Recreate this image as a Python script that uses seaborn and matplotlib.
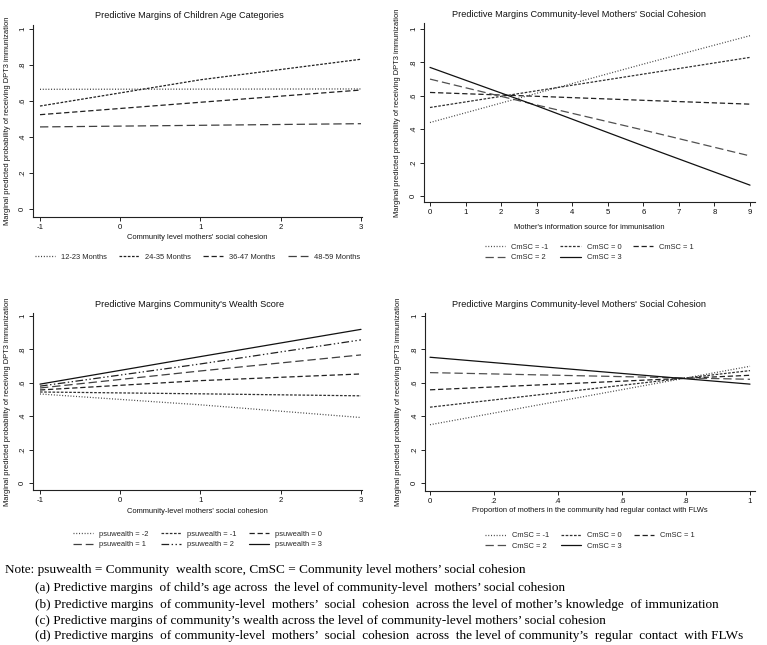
import matplotlib
matplotlib.use("Agg")
import matplotlib.pyplot as plt
import seaborn as sns

# ---------------- data ----------------
# (a) Predictive margins of children age categories
a_x = [-1, 1, 3]
a_names = ["12-23 Months", "24-35 Months", "36-47 Months", "48-59 Months"]
a_12_23 = [0.665, 0.666, 0.667]
a_24_35 = [0.572, 0.718, 0.832]
a_36_47 = [0.524, 0.593, 0.661]
a_48_59 = [0.456, 0.465, 0.474]

# (b) CmSC across mother's information source
b_x = [0, 3, 6, 9]
b_names = ["CmSC = -1", "CmSC = 0", "CmSC = 1", "CmSC = 2", "CmSC = 3"]
b_m1 = [0.44, 0.615, 0.79, 0.96]
b_0 = [0.53, 0.63, 0.73, 0.83]
b_1 = [0.62, 0.597, 0.573, 0.55]
b_2 = [0.70, 0.545, 0.395, 0.24]
b_3 = [0.77, 0.54, 0.30, 0.065]

# (c) Community wealth score
c_x = [-1, 1, 3]
c_names = ["psuwealth = -2", "psuwealth = -1", "psuwealth = 0",
           "psuwealth = 1", "psuwealth = 2", "psuwealth = 3"]
c_m2 = [0.533, 0.468, 0.392]
c_m1 = [0.545, 0.534, 0.522]
c_0 = [0.557, 0.613, 0.653]
c_1 = [0.569, 0.671, 0.767]
c_2 = [0.580, 0.713, 0.857]
c_3 = [0.592, 0.757, 0.920]

# (d) CmSC across contact with FLWs
d_x = [0, 0.5, 1]
d_names = ["CmSC = -1", "CmSC = 0", "CmSC = 1", "CmSC = 2", "CmSC = 3"]
d_m1 = [0.349, 0.524, 0.699]
d_0 = [0.454, 0.563, 0.673]
d_1 = [0.558, 0.601, 0.645]
d_2 = [0.661, 0.641, 0.621]
d_3 = [0.753, 0.672, 0.592]

titles = ["Predictive Margins of Children Age Categories",
          "Predictive Margins Community-level Mothers' Social Cohesion",
          "Predictive Margins Community's Wealth Score",
          "Predictive Margins Community-level Mothers' Social Cohesion"]
xlabels = ["Community level mothers' social cohesion",
           "Mother's information source for immunisation",
           "Community-level mothers' social cohesion",
           "Proportion of mothers in the community had regular contact with FLWs"]
ylabel = "Marginal predicted probability of receiving DPT3 immunization"
y_ticks = [0, 0.2, 0.4, 0.6, 0.8, 1]
y_ticklabels = ["0", ".2", ".4", ".6", ".8", "1"]
a_xticks = [-1, 0, 1, 2, 3]
b_xticks = list(range(10))
d_xticks = [0, 0.2, 0.4, 0.6, 0.8, 1]
d_xticklabels = ["0", ".2", ".4", ".6", ".8", "1"]

notes = [
    "Note: psuwealth = Community  wealth score, CmSC = Community level mothers\u2019 social cohesion",
    "(a) Predictive margins  of child\u2019s age across  the level of community-level  mothers\u2019 social cohesion",
    "(b) Predictive margins  of community-level  mothers\u2019  social  cohesion  across the level of mother\u2019s knowledge  of immunization",
    "(c) Predictive margins of community\u2019s wealth across the level of community-level mothers\u2019 social cohesion",
    "(d) Predictive margins  of community-level  mothers\u2019  social  cohesion  across  the level of community\u2019s  regular  contact  with FLWs",
]

# ---------------- styles ----------------
sns.set_theme(style="white")
plt.rcParams["font.family"] = ["Liberation Sans", "DejaVu Sans"]
plt.rcParams["lines.scale_dashes"] = False

DOT = (0, (0.7, 1.3))
SHORT = (0, (1.9, 1.1))
MED = (0, (3.8, 2.0))
LONG = (0, (6.0, 2.8))
DASHDOT = (0, (5.5, 1.8, 1.0, 1.8, 1.0, 1.8))
SOLID = "-"

W, H = 767, 645
fig = plt.figure(figsize=(W / 100, H / 100), dpi=100)
fig.patch.set_facecolor("white")


def rect(l, r, t, b):
    return [l / W, 1 - b / H, (r - l) / W, (b - t) / H]


def lim(v1, p1, v2, p2, lo, hi):
    s = (v2 - v1) / (p2 - p1)
    return v1 + (lo - p1) * s, v1 + (hi - p1) * s


panels = [
    dict(box=(33, 362, 25, 217), xr=(-1, 40, 3, 361), yr=(0, 209, 1, 29),
         x=a_x, series=[a_12_23, a_24_35, a_36_47, a_48_59], names=a_names,
         ls=[DOT, SHORT, MED, LONG], col=["#303030", "#202020", "#202020", "#404040"],
         xticks=a_xticks, xtl=[str(v) for v in a_xticks], ncol=4,
         tx=0.474, xl_y=-0.109, leg_y=-0.208),
    dict(box=(424, 755, 23, 202), xr=(0, 430, 9, 750), yr=(0, 196, 1, 29),
         x=b_x, series=[b_m1, b_0, b_1, b_2, b_3], names=b_names,
         ls=[DOT, SHORT, MED, LONG, SOLID],
         col=["#404040", "#303030", "#202020", "#505050", "#111111"],
         xticks=b_xticks, xtl=[str(v) for v in b_xticks], ncol=3,
         tx=0.468, xl_y=-0.145, leg_y=-0.282),
    dict(box=(33, 362, 313, 490), xr=(-1, 40, 3, 361), yr=(0, 483, 1, 316),
         x=c_x, series=[c_m2, c_m1, c_0, c_1, c_2, c_3], names=c_names,
         ls=[DOT, SHORT, MED, LONG, DASHDOT, SOLID],
         col=["#404040", "#303030", "#202020", "#404040", "#202020", "#111111"],
         xticks=a_xticks, xtl=[str(v) for v in a_xticks], ncol=3,
         tx=0.476, xl_y=-0.124, leg_y=-0.28),
    dict(box=(425, 755, 313, 491), xr=(0, 430, 1, 750), yr=(0, 483, 1, 316),
         x=d_x, series=[d_m1, d_0, d_1, d_2, d_3], names=d_names,
         ls=[DOT, SHORT, MED, LONG, SOLID],
         col=["#404040", "#303030", "#202020", "#505050", "#111111"],
         xticks=d_xticks, xtl=d_xticklabels, ncol=3,
         tx=0.468, xl_y=-0.112, leg_y=-0.28),
]

for i, p in enumerate(panels):
    l, r, t, b = p["box"]
    ax = fig.add_axes(rect(l, r, t, b))
    for ys, nm, ls, c in zip(p["series"], p["names"], p["ls"], p["col"]):
        sns.lineplot(x=p["x"], y=ys, ax=ax, color=c, linewidth=0.9,
                     linestyle=ls, label=nm, legend=False)
    handles = ax.get_lines()
    xv1, xp1, xv2, xp2 = p["xr"]
    ax.set_xlim(*lim(xv1, xp1, xv2, xp2, l, r))
    yv1, yp1, yv2, yp2 = p["yr"]
    ax.set_ylim(*lim(yv1, yp1, yv2, yp2, b, t))
    for s in ["top", "right"]:
        ax.spines[s].set_visible(False)
    for s in ["left", "bottom"]:
        ax.spines[s].set_color("#222222")
        ax.spines[s].set_linewidth(0.8)
    ax.set_xticks(p["xticks"], p["xtl"])
    ax.set_yticks(y_ticks, y_ticklabels)
    ax.tick_params(axis="both", which="major", length=3, width=0.7,
                   color="#222222", labelsize=5.6, pad=2,
                   bottom=True, left=True, labelcolor="#111111")
    for lab in ax.get_yticklabels():
        lab.set_rotation(90)
        lab.set_va("center")
    ax.set_title(titles[i], fontsize=6.6, color="#111111",
                 x=p["tx"], y=1.05, va="center", pad=0)
    ax.set_xlabel(xlabels[i], fontsize=5.4, color="#111111")
    ax.xaxis.set_label_coords(0.5, p["xl_y"])
    ax.xaxis.label.set_va("center")
    ax.set_ylabel(ylabel, fontsize=5.4, color="#111111")
    ax.yaxis.set_label_coords(-0.079, 0.5)
    ax.yaxis.label.set_va("center")
    ax.set_facecolor("white")
    ax.grid(False)

    n = len(handles)
    ncol = p["ncol"]
    order = list(range(n))
    if ncol == 3:
        rows = [order[k:k + ncol] for k in range(0, n, ncol)]
        order = [rw[j] for j in range(ncol) for rw in rows if j < len(rw)]
    hs = [handles[k] for k in order]
    ls_ = [p["names"][k] for k in order]
    ax.legend(hs, ls_, loc="center", bbox_to_anchor=(0.5, p["leg_y"]),
              ncol=ncol, frameon=False, fontsize=5.4, handlelength=2.7,
              handletextpad=0.8, columnspacing=1.6, labelspacing=0.45,
              borderpad=0.2)

# notes
serif = ["Liberation Serif", "DejaVu Serif"]
note_y = [570, 588, 605, 621, 636]
note_x = [5, 35, 35, 35, 35]
for txt, yy, xx in zip(notes, note_y, note_x):
    fig.text(xx / W, 1 - yy / H, txt, family=serif, fontsize=9.55,
             color="black", va="center", ha="left")

fig.savefig("out.png", dpi=100, facecolor="white")
